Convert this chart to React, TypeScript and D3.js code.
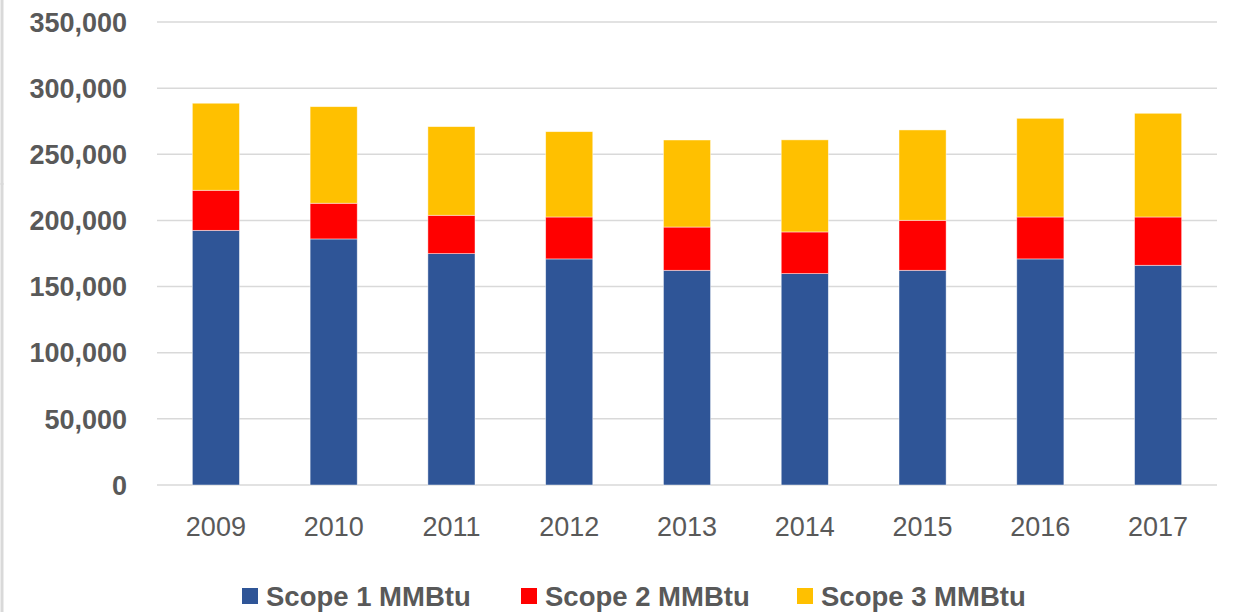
import React from "react";
import * as d3 from "d3";

const years = ["2009", "2010", "2011", "2012", "2013", "2014", "2015", "2016", "2017"];
const scope1 = [192500, 186000, 174900, 170900, 162300, 159800, 162300, 170900, 166100];
const scope2 = [30300, 27000, 29000, 31700, 32700, 31500, 37800, 31700, 36500];
const scope3 = [65800, 73000, 67000, 64500, 65800, 69600, 68300, 74600, 78400];
const seriesNames = ["Scope 1 MMBtu", "Scope 2 MMBtu", "Scope 3 MMBtu"];
const seriesColors = ["#2F5597", "#FF0000", "#FFC000"];
const yTicks = [0, 50000, 100000, 150000, 200000, 250000, 300000, 350000];

const W = 1233;
const H = 612;

export default function App() {
  const x = d3.scaleBand<string>().domain(years).range([157, 1217]).paddingInner(0.6).paddingOuter(0.3);
  const y = d3.scaleLinear().domain([0, 350000]).range([485, 22]);

  const table = years.map((yr, i) => ({ year: yr, s1: scope1[i], s2: scope2[i], s3: scope3[i] }));
  const stack = d3.stack<any>().keys(["s1", "s2", "s3"]);
  const layers = stack(table);
  const fmt = d3.format(",");

  const legendX = [242, 521, 797];

  return (
    <svg width={W} height={H} style={{ position: "absolute", left: 0, top: 0, background: "#fff" }}>
      <rect x={0} y={0} width={W} height={H} fill="#fff" />
      <line x1={2} x2={2} y1={0} y2={H} stroke="#d9d9d9" strokeWidth={3} />
      <line x1={0} x2={4} y1={184} y2={184} stroke="#d9d9d9" strokeWidth={1} />
      {yTicks.map((t) => (
        <g key={t}>
          <line x1={157} x2={1217} y1={y(t)} y2={y(t)} stroke="#d9d9d9" strokeWidth={1.5} />
          <text
            x={127}
            y={y(t)}
            dy="0.36em"
            textAnchor="end"
            fontFamily="'Liberation Sans', Arial, sans-serif"
            fontWeight="bold"
            fontSize={27}
            fill="#595959"
          >
            {fmt(t)}
          </text>
        </g>
      ))}
      {layers.map((layer, li) => (
        <g key={li} fill={seriesColors[li]}>
          {layer.map((d: any, i: number) => (
            <rect
              key={i}
              x={x(d.data.year)}
              y={y(d[1])}
              width={x.bandwidth()}
              height={y(d[0]) - y(d[1])}
              stroke="#ffffff"
              strokeOpacity={0.6}
              strokeWidth={0.75}
            />
          ))}
        </g>
      ))}
      {years.map((yr) => (
        <text
          key={yr}
          x={(x(yr) as number) + x.bandwidth() / 2}
          y={526}
          dy="0.36em"
          textAnchor="middle"
          fontFamily="'Liberation Sans', Arial, sans-serif"
          fontSize={27}
          fill="#595959"
        >
          {yr}
        </text>
      ))}
      {seriesNames.map((name, i) => (
        <g key={name}>
          <rect x={legendX[i]} y={588} width={16} height={16} fill={seriesColors[i]} />
          <text
            x={legendX[i] + 24}
            y={596}
            dy="0.36em"
            fontFamily="'Liberation Sans', Arial, sans-serif"
            fontWeight="bold"
            fontSize={27.5}
            fill="#595959"
          >
            {name}
          </text>
        </g>
      ))}
    </svg>
  );
}
